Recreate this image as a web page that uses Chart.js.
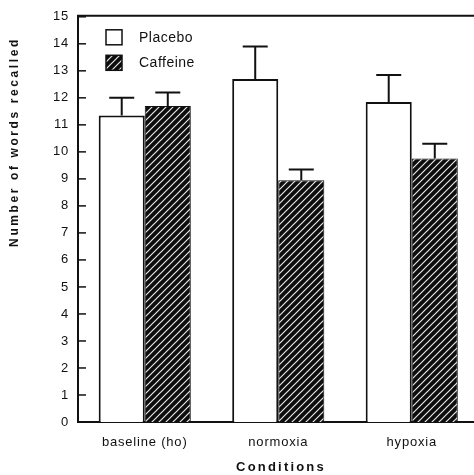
<!DOCTYPE html>
<html>
<head>
<meta charset="utf-8">
<script src="https://cdn.jsdelivr.net/npm/chart.js@4.4.1/dist/chart.umd.min.js"></script>
<style>
  html, body { margin: 0; padding: 0; background: #fff; overflow: hidden; }
  #wrap { width: 490px; height: 475px; }
</style>
</head>
<body>
<div id="wrap"><canvas id="c" width="490" height="475"></canvas></div>
<script>
// Words recalled per condition (means with upper error bars)
const conditions  = ['baseline (ho)', 'normoxia', 'hypoxia'];
const placebo     = [11.35, 12.7, 11.85];
const caffeine    = [11.7, 8.95, 9.75];
const placeboErr  = [0.65, 1.2, 1.0];
const caffeineErr = [0.5, 0.4, 0.55];
const yMin = 0, yMax = 15, yStep = 1;

const INK = '#111';
const FONT = '"Liberation Sans", Arial, Helvetica, sans-serif';

// Diagonal white-on-black hatching for the caffeine bars
function hatchPattern() {
  const s = 7;
  const p = document.createElement('canvas');
  p.width = s; p.height = s;
  const g = p.getContext('2d');
  g.fillStyle = '#0d0d0d';
  g.fillRect(0, 0, s, s);
  g.strokeStyle = '#e8e8e8';
  g.lineWidth = 1.2;
  g.beginPath();
  g.moveTo(0, s); g.lineTo(s, 0);
  g.moveTo(-s / 2, s / 2); g.lineTo(s / 2, -s / 2);
  g.moveTo(s / 2, s * 1.5); g.lineTo(s * 1.5, s / 2);
  g.stroke();
  return g.createPattern(p, 'repeat');
}
const hatch = hatchPattern();

const decor = {
  id: 'decor',
  beforeLayout(chart) { chart.ctx.letterSpacing = '0.8px'; },
  beforeDraw(chart) { chart.ctx.letterSpacing = '0.8px'; },
  afterDatasetsDraw(chart) {
    const { ctx, chartArea: a, scales: { y } } = chart;
    ctx.save();
    ctx.strokeStyle = INK;
    ctx.lineCap = 'butt';

    // upper error bars with caps
    chart.data.datasets.forEach((ds, i) => {
      const meta = chart.getDatasetMeta(i);
      meta.data.forEach((bar, j) => {
        const top = y.getPixelForValue(ds.data[j]);
        const tip = y.getPixelForValue(ds.data[j] + ds.errors[j]);
        ctx.lineWidth = 2;
        ctx.beginPath();
        ctx.moveTo(bar.x, top);
        ctx.lineTo(bar.x, tip);
        ctx.moveTo(bar.x - 12.5, tip);
        ctx.lineTo(bar.x + 12.5, tip);
        ctx.stroke();
      });
    });

    // frame line along the top
    ctx.lineWidth = 2;
    ctx.beginPath();
    ctx.moveTo(a.left - 1, a.top - 1);
    ctx.lineTo(chart.width, a.top - 1);
    ctx.stroke();

    // inward tick marks on the value axis
    ctx.lineWidth = 1.5;
    y.ticks.forEach(t => {
      const py = y.getPixelForValue(t.value);
      ctx.beginPath();
      ctx.moveTo(a.left, py);
      ctx.lineTo(a.left + 8, py);
      ctx.stroke();
    });

    // legend
    ctx.letterSpacing = '0.5px';
    ctx.font = '14px ' + FONT;
    ctx.textBaseline = 'middle';
    ctx.textAlign = 'left';
    chart.data.datasets.forEach((ds, i) => {
      const bx = a.left + 28, by = a.top + 13 + i * 25.5;
      ctx.fillStyle = ds.backgroundColor;
      ctx.fillRect(bx, by, 16, 15);
      ctx.lineWidth = 1.5;
      ctx.strokeStyle = INK;
      ctx.strokeRect(bx, by, 16, 15);
      ctx.fillStyle = INK;
      ctx.fillText(ds.label, a.left + 61, by + 8);
    });

    // axis titles
    ctx.font = 'bold 12px ' + FONT;
    ctx.letterSpacing = '2.6px';
    ctx.textAlign = 'center';
    ctx.fillStyle = INK;
    ctx.save();
    ctx.translate(15, 142);
    ctx.rotate(-Math.PI / 2);
    ctx.fillText('Number of words recalled', 0, 0);
    ctx.restore();

    ctx.font = 'bold 13px ' + FONT;
    ctx.letterSpacing = '2.2px';
    ctx.fillText('Conditions', 281, 467);
    ctx.restore();
  }
};

new Chart(document.getElementById('c'), {
  type: 'bar',
  data: {
    labels: conditions,
    datasets: [
      { label: 'Placebo', data: placebo, errors: placeboErr,
        backgroundColor: '#ffffff', borderColor: INK, borderWidth: 2 },
      { label: 'Caffeine', data: caffeine, errors: caffeineErr,
        backgroundColor: hatch, borderColor: INK, borderWidth: 1 }
    ]
  },
  options: {
    responsive: false,
    animation: false,
    events: [],
    layout: { padding: { top: 13, right: 11.5, left: 0, bottom: 0 } },
    datasets: { bar: { categoryPercentage: 0.69, barPercentage: 1.0 } },
    plugins: { legend: { display: false }, tooltip: { enabled: false } },
    scales: {
      x: {
        grid: { display: false, drawTicks: false },
        border: { display: true, color: INK, width: 2 },
        ticks: { color: INK, font: { family: FONT, size: 13 }, padding: 13, maxRotation: 0 },
        afterFit(s) { s.height = 53; }
      },
      y: {
        min: yMin, max: yMax,
        grid: { display: false, drawTicks: false },
        border: { display: true, color: INK, width: 2 },
        ticks: { stepSize: yStep, color: INK, font: { family: FONT, size: 13 }, padding: 9 },
        afterFit(s) { s.width = 78; }
      }
    }
  },
  plugins: [decor]
});
</script>
</body>
</html>
